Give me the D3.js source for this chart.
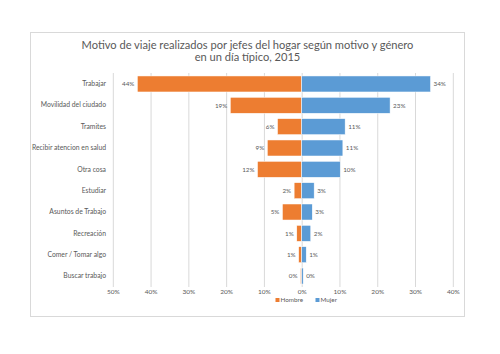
<!DOCTYPE html>
<html><head><meta charset="utf-8">
<script src="https://cdn.jsdelivr.net/npm/d3@7/dist/d3.min.js"></script>
<style>body{margin:0;background:#fff}svg{display:block}text{font-family:Lato,"Open Sans",sans-serif;fill:#595959}</style>
</head><body><svg id="c" width="500" height="354"></svg>
<script>
const categories = ["Trabajar","Movilidad del ciudado","Tramites","Recibir atencion en salud","Otra cosa","Estudiar","Asuntos de Trabajo","Recreación","Comer / Tomar algo","Buscar trabajo"];
const hombre = [43.5, 18.9, 6.4, 9.1, 11.7, 2.0, 5.1, 1.3, 0.8, 0.3];
const mujer = [34.1, 23.4, 11.5, 10.9, 10.2, 3.3, 2.8, 2.4, 1.2, 0.4];
const hombreLabels = ["44%","19%","6%","9%","12%","2%","5%","1%","1%","0%"];
const mujerLabels = ["34%","23%","11%","11%","10%","3%","3%","2%","1%","0%"];
const ticks = [-50,-40,-30,-20,-10,0,10,20,30,40];
const tickLabels = ["50%","40%","30%","20%","10%","0%","10%","20%","30%","40%"];
const titleLines = ["Motivo de viaje realizados por jefes del hogar según motivo y género","en un día típico, 2015"];
const series = [{name:"Hombre",color:"#ED7D31"},{name:"Mujer",color:"#5B9BD5"}];

const svg = d3.select("#c");
svg.append("rect").attr("x",30.5).attr("y",32.5).attr("width",434).attr("height",284)
  .attr("fill","#fff").attr("stroke","#d9d9d9").attr("stroke-width",1);

svg.selectAll("text.title").data(titleLines).join("text").attr("class","title")
  .attr("x",247.5).attr("y",(d,i)=>48.8+i*12).attr("text-anchor","middle")
  .attr("font-size",11.1).text(d=>d);

const x = d3.scaleLinear().domain([-50,40]).range([112.8,452.8]);
const y = d3.scaleBand().domain(categories).range([73.3,286.7]).paddingInner(0.25).paddingOuter(0.125);

// gridlines
svg.append("g").selectAll("line").data(ticks).join("line")
  .attr("x1",d=>x(d)+0.5).attr("x2",d=>x(d)+0.5).attr("y1",73).attr("y2",287)
  .attr("stroke","#d9d9d9").attr("stroke-width",1);

// x axis labels
const xAxis = d3.axisBottom(x).tickValues(ticks).tickFormat((d,i)=>tickLabels[i]).tickSize(0).tickPadding(0);
const gx = svg.append("g").attr("transform","translate(0,289)").call(xAxis);
gx.select(".domain").remove();
gx.selectAll("text").attr("font-size",6.5).attr("fill","#595959").style("font-family","Lato");

// y labels
const yAxis = d3.axisLeft(y).tickSize(0).tickPadding(0);
const gy = svg.append("g").attr("transform","translate(106,0)").call(yAxis);
gy.select(".domain").remove();
gy.selectAll("text").attr("font-size",6.8).attr("fill","#595959").style("font-family","Lato");

const rows = categories.map((c,i)=>({c,h:hombre[i],m:mujer[i],hl:hombreLabels[i],ml:mujerLabels[i]}));
const g = svg.append("g");
g.selectAll("rect.h").data(rows).join("rect").attr("class","h")
  .attr("x",d=>x(-d.h)).attr("width",d=>x(0)-x(-d.h)).attr("y",d=>y(d.c)).attr("height",y.bandwidth())
  .attr("fill",series[0].color).attr("stroke","#fff").attr("stroke-width",0.5);
g.selectAll("rect.m").data(rows).join("rect").attr("class","m")
  .attr("x",x(0)).attr("width",d=>x(d.m)-x(0)).attr("y",d=>y(d.c)).attr("height",y.bandwidth())
  .attr("fill",series[1].color).attr("stroke","#fff").attr("stroke-width",0.5);
g.selectAll("text.hl").data(rows).join("text").attr("class","hl")
  .attr("x",d=>x(-d.h)-3).attr("y",d=>y(d.c)+y.bandwidth()/2).attr("dy","0.35em")
  .attr("text-anchor","end").attr("font-size",6.3).text(d=>d.hl);
g.selectAll("text.ml").data(rows).join("text").attr("class","ml")
  .attr("x",d=>x(d.m)+3).attr("y",d=>y(d.c)+y.bandwidth()/2).attr("dy","0.35em")
  .attr("text-anchor","start").attr("font-size",6.3).text(d=>d.ml);

// legend
const lg = svg.append("g").selectAll("g").data(series).join("g")
  .attr("transform",(d,i)=>`translate(${i?315.5:275.5},298)`);
lg.append("rect").attr("width",4).attr("height",4).attr("fill",d=>d.color);
lg.append("text").attr("x",5).attr("y",2).attr("dy","0.35em").attr("font-size",6.3).text(d=>d.name);
</script></body></html>
